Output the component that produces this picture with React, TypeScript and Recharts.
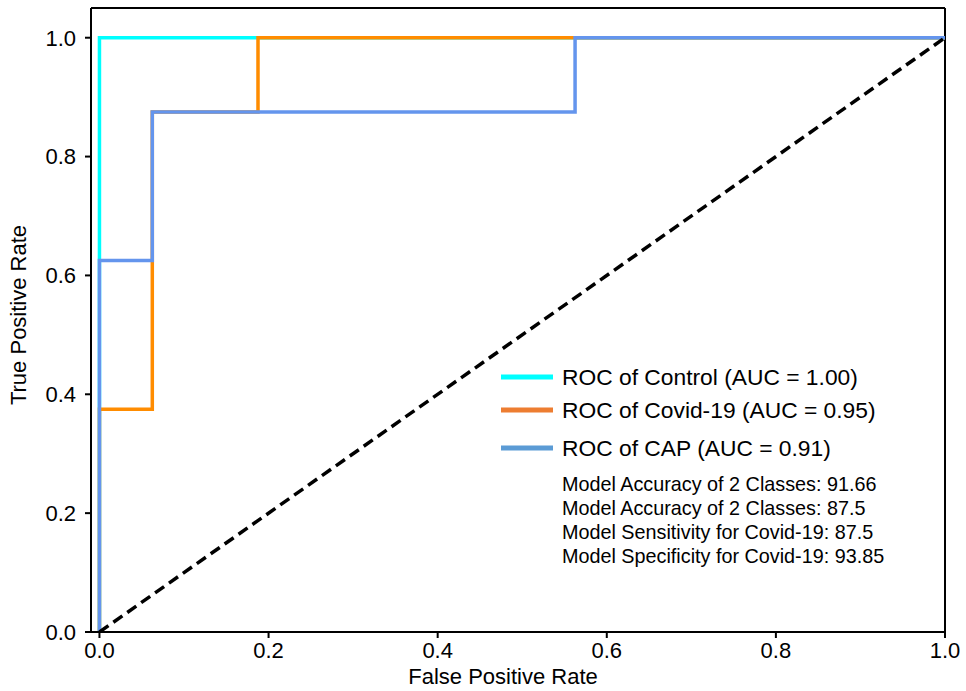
import React from 'react';
import { LineChart, Line, XAxis, YAxis, ReferenceLine } from 'recharts';

// ROC curve points (fpr, tpr)
const controlFpr = [0, 0, 1];
const controlTpr = [0, 1, 1];
const covidFpr = [0, 0, 0.0625, 0.0625, 0.1875, 0.1875, 1];
const covidTpr = [0, 0.375, 0.375, 0.875, 0.875, 1, 1];
const capFpr = [0, 0, 0.0625, 0.0625, 0.5625, 0.5625, 1];
const capTpr = [0, 0.625, 0.625, 0.875, 0.875, 1, 1];
const chanceFpr = [0, 1];
const chanceTpr = [0, 1];

const xTicks = [0, 0.2, 0.4, 0.6, 0.8, 1.0];
const yTicks = [0, 0.2, 0.4, 0.6, 0.8, 1.0];

const legendItems = [
  { label: 'ROC of Control (AUC = 1.00)', color: '#00FFFF' },
  { label: 'ROC of Covid-19 (AUC = 0.95)', color: '#ED7D31' },
  { label: 'ROC of CAP (AUC = 0.91)', color: '#5B9BD5' },
];

const noteLines = [
  'Model Accuracy of 2 Classes: 91.66',
  'Model Accuracy of 2 Classes: 87.5',
  'Model Sensitivity for Covid-19: 87.5',
  'Model Specificity for Covid-19: 93.85',
];

const toPoints = (xs: number[], ys: number[]) => xs.map((x, i) => ({ x, y: ys[i] }));

const FONT = '"Liberation Sans", Arial, Helvetica, sans-serif';
const fmt = (v: number) => v.toFixed(1);

export default function App() {
  const tickStyle = { fill: '#000', fontSize: 22, fontFamily: FONT };
  const legendRowY = [377, 410, 448];
  const noteRowY = [484, 508, 532, 556];

  return (
    <div style={{ position: 'absolute', left: 0, top: 0, width: 966, height: 691, background: '#fff', fontFamily: FONT }}>
      <LineChart width={966} height={691} margin={{ top: 8, right: 21, left: 0, bottom: 0 }}>
        <XAxis
          dataKey="x"
          type="number"
          domain={[-0.01, 1.0]}
          ticks={xTicks}
          tickFormatter={fmt}
          allowDataOverflow
          height={59}
          tickSize={6}
          tickMargin={4}
          tick={tickStyle}
          axisLine={{ stroke: '#000', strokeWidth: 2 }}
          tickLine={{ stroke: '#000', strokeWidth: 2 }}
        />
        <YAxis
          dataKey="y"
          type="number"
          domain={[0, 1.05]}
          ticks={yTicks}
          tickFormatter={fmt}
          allowDataOverflow
          width={91}
          tickSize={6}
          tickMargin={9}
          tick={tickStyle}
          axisLine={{ stroke: '#000', strokeWidth: 2 }}
          tickLine={{ stroke: '#000', strokeWidth: 2 }}
        />
        {/* top and right edges of the frame */}
        <ReferenceLine y={1.05} stroke="#000" strokeWidth={2} ifOverflow="visible" />
        <ReferenceLine x={1.0} stroke="#000" strokeWidth={2} ifOverflow="visible" />
        <Line data={toPoints(controlFpr, controlTpr)} dataKey="y" type="linear" stroke="#00FFFF" strokeWidth={3.5} dot={false} isAnimationActive={false} />
        <Line data={toPoints(covidFpr, covidTpr)} dataKey="y" type="linear" stroke="#FF8C00" strokeWidth={3.5} dot={false} isAnimationActive={false} />
        <Line data={toPoints(capFpr, capTpr)} dataKey="y" type="linear" stroke="#6495ED" strokeWidth={3.5} dot={false} isAnimationActive={false} />
        <Line data={toPoints(chanceFpr, chanceTpr)} dataKey="y" type="linear" stroke="#000" strokeWidth={3.5} strokeDasharray="11 6" dot={false} isAnimationActive={false} />
      </LineChart>

      <div style={{ position: 'absolute', left: 19, top: 315, transform: 'translate(-50%, -50%) rotate(-90deg)', fontSize: 22, whiteSpace: 'nowrap', color: '#000' }}>
        True Positive Rate
      </div>
      <div style={{ position: 'absolute', left: 503, top: 677, transform: 'translate(-50%, -50%)', fontSize: 22, whiteSpace: 'nowrap', color: '#000' }}>
        False Positive Rate
      </div>

      {legendItems.map((item, i) => (
        <div key={item.label} style={{ position: 'absolute', left: 501, top: legendRowY[i], transform: 'translateY(-50%)', display: 'flex', alignItems: 'center', whiteSpace: 'nowrap' }}>
          <div style={{ width: 52, height: 5, background: item.color, marginRight: 9 }} />
          <span style={{ fontSize: 22.8, color: '#000' }}>{item.label}</span>
        </div>
      ))}
      {noteLines.map((t, i) => (
        <div key={i} style={{ position: 'absolute', left: 562, top: noteRowY[i], transform: 'translateY(-50%)', fontSize: 19.8, whiteSpace: 'nowrap', color: '#000' }}>
          {t}
        </div>
      ))}
    </div>
  );
}
